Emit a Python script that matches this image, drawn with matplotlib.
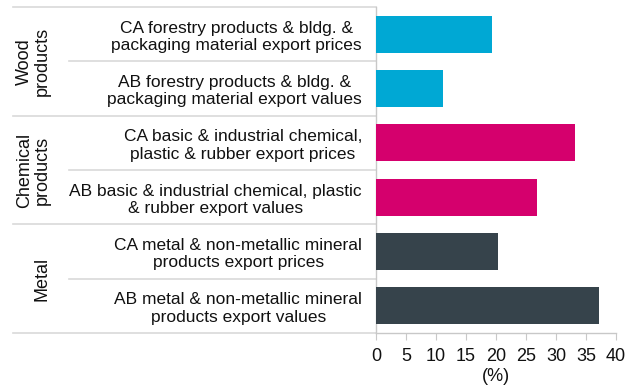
import matplotlib
matplotlib.use("Agg")
import matplotlib.pyplot as plt
import matplotlib.transforms as mtransforms

plt.rcParams['font.family'] = ['Liberation Sans', 'DejaVu Sans']

categories = [
    "CA forestry products & bldg. &\npackaging material export prices",
    "AB forestry products & bldg. &\npackaging material export values",
    "CA basic & industrial chemical,\nplastic & rubber export prices",
    "AB basic & industrial chemical, plastic\n& rubber export values",
    "CA metal & non-metallic mineral\nproducts export prices",
    "AB metal & non-metallic mineral\nproducts export values",
]
values = [19.4, 11.2, 33.2, 26.8, 20.3, 37.2]
groups = ["Wood\nproducts", "Chemical\nproducts", "Metal"]
group_sizes = [2, 2, 2]
group_colors = ["#00A8D4", "#D5006D", "#36434B"]
xticks = [0, 5, 10, 15, 20, 25, 30, 35, 40]
xlabel = "(%)"

W, H = 636, 390
fig = plt.figure(figsize=(W / 100, H / 100), dpi=100)
ax = fig.add_axes([376 / W, 1 - 333 / H, 240 / W, 326 / H])

colors = []
for c, n in zip(group_colors, group_sizes):
    colors += [c] * n

text_col = '#111111'
ypos = list(range(len(categories)))
ax.barh(ypos, values, height=0.68, color=colors, zorder=3)
ax.set_ylim(len(categories) - 0.5, -0.5)
ax.set_xlim(0, 40)
ax.set_xticks(xticks)
ax.set_xticklabels([str(t) for t in xticks])
ax.set_yticks(ypos)
ax.set_yticklabels(categories, fontsize=12.5, multialignment='center', color=text_col,
                   linespacing=1.2)
ax.tick_params(axis='y', length=0, pad=10)
ax.tick_params(axis='x', length=5, color='#c8c8c8', labelsize=13, pad=6, labelcolor=text_col)
ax.set_xlabel(xlabel, fontsize=13, labelpad=2, color=text_col)

for s in ['top', 'right']:
    ax.spines[s].set_visible(False)
for s in ['left', 'bottom']:
    ax.spines[s].set_color('#c8c8c8')
    ax.spines[s].set_linewidth(1)

line_col = '#d9d9d9'
trans = mtransforms.blended_transform_factory(fig.transFigure, ax.transData)
# group and row separators
boundaries_group = []
start = 0
for n in group_sizes:
    boundaries_group.append(start - 0.5)
    start += n
boundaries_group.append(start - 0.5)
for b in boundaries_group:
    ax.add_line(plt.Line2D([13 / W, 376 / W], [b, b], transform=trans, color=line_col,
                           lw=1.2, clip_on=False))
start = 0
for n in group_sizes:
    for k in range(1, n):
        b = start + k - 0.5
        ax.add_line(plt.Line2D([69 / W, 376 / W], [b, b], transform=trans, color=line_col,
                               lw=1.2, clip_on=False))
    start += n

# group labels
start = 0
for g, n in zip(groups, group_sizes):
    yc = start + (n - 1) / 2
    ax.text(51 / W, yc, g, transform=trans, rotation=90, ha='right', va='center',
            fontsize=13, multialignment='center', color=text_col, linespacing=1.1)
    start += n

fig.savefig("out.png", dpi=100)
